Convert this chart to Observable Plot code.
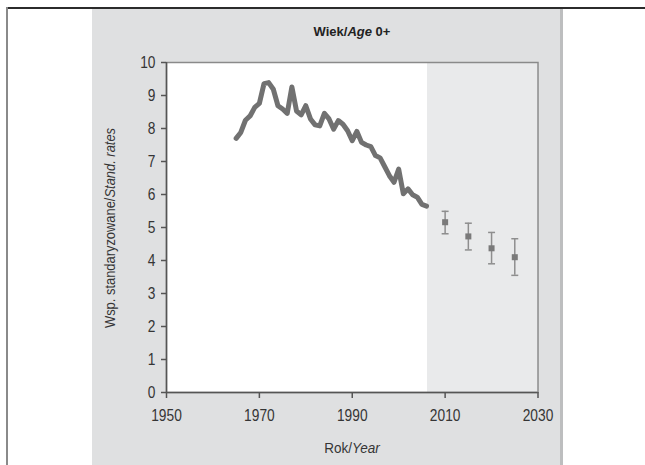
<!DOCTYPE html>
<html>
<head>
<meta charset="utf-8">
<script src="https://cdn.jsdelivr.net/npm/d3@7"></script>
<script src="https://cdn.jsdelivr.net/npm/@observablehq/plot@0.6"></script>
<style>
  html, body { margin: 0; padding: 0; }
  body {
    width: 645px; height: 465px; position: relative; overflow: hidden; background: #fff;
    font-family: "Liberation Sans", Arial, sans-serif;
  }
  #topline { position: absolute; left: 6px; top: 7px; width: 639px; height: 1.5px; background: #2b2b2b; }
  #leftline { position: absolute; left: 6px; top: 7px; width: 1.5px; height: 458px; background: #8a8a8a; }
  #panel { position: absolute; left: 92px; top: 9px; width: 468px; height: 456px; background: #dfe0e1; border-right: 3px solid #bdbebf; }
  #chart { position: absolute; left: 0; top: 0; }
  .lbl { position: absolute; color: #353535; white-space: nowrap; text-align: center; }
  #title { left: 252px; width: 200px; top: 24px; font-size: 13px; font-weight: bold; color: #222; }
  #xlabel { left: 252px; width: 200px; top: 439px; font-size: 15px; transform: scaleX(0.9); }
  #ylabel { left: -40px; top: 218px; width: 300px; height: 20px; line-height: 20px; font-size: 15px; transform: rotate(-90deg) scaleX(0.86); transform-origin: 150px 10px; }
</style>
</head>
<body>
<div id="panel"></div>
<div id="topline"></div>
<div id="leftline"></div>
<div id="chart"></div>
<div class="lbl" id="title">Wiek/<i>Age</i> 0+</div>
<div class="lbl" id="ylabel">Wsp. standaryzowane/<i>Stand. rates</i></div>
<div class="lbl" id="xlabel">Rok/<i>Year</i></div>
<script>
// Observed standardized rates, 1965–2006
const years = [1965,1966,1967,1968,1969,1970,1971,1972,1973,1974,1975,1976,1977,1978,1979,1980,1981,1982,1983,1984,1985,1986,1987,1988,1989,1990,1991,1992,1993,1994,1995,1996,1997,1998,1999,2000,2001,2002,2003,2004,2005,2006];
const rates = [7.70,7.88,8.25,8.38,8.64,8.76,9.36,9.39,9.19,8.69,8.59,8.46,9.26,8.53,8.41,8.69,8.29,8.11,8.08,8.46,8.29,7.98,8.24,8.13,7.93,7.63,7.91,7.58,7.50,7.45,7.18,7.11,6.84,6.57,6.37,6.77,6.02,6.17,5.99,5.92,5.70,5.65];

// Projections with uncertainty intervals
const projYears = [2010, 2015, 2020, 2025];
const projRates = [5.16, 4.73, 4.37, 4.10];
const projLow   = [4.81, 4.32, 3.90, 3.55];
const projHigh  = [5.49, 5.13, 4.85, 4.66];

// Projection period (shaded)
const projStart = 2006.2;
const projEnd = 2030;

// Axis ticks
const xTicks = [1950, 1970, 1990, 2010, 2030];
const yTicks = [0,1,2,3,4,5,6,7,8,9,10];

const hist = years.map((y, i) => ({year: y, rate: rates[i]}));
const proj = projYears.map((y, i) => ({year: y, rate: projRates[i], lo: projLow[i], hi: projHigh[i]}));
const capHalf = 0.75;

const chart = Plot.plot({
  width: 645,
  height: 465,
  marginLeft: 166,
  marginRight: 107.5,
  marginTop: 62,
  marginBottom: 73,
  style: {background: "transparent", fontFamily: "'Liberation Sans', Arial, sans-serif"},
  x: {domain: [1950, 2030]},
  y: {domain: [0, 10]},
  marks: [
    Plot.frame({fill: "white", stroke: null}),
    Plot.rect([{x1: projStart, x2: projEnd}], {x1: "x1", x2: "x2", y1: 0, y2: 10, fill: "#e9eaeb"}),
    Plot.frame({stroke: "#8a8a8a", strokeWidth: 1.5}),
    Plot.line(hist, {x: "year", y: "rate", stroke: "#717171", strokeWidth: 5, strokeLinejoin: "round", strokeLinecap: "round"}),
    Plot.ruleX(proj, {x: "year", y1: "lo", y2: "hi", stroke: "#8e8e8e", strokeWidth: 1.5}),
    Plot.link(proj, {x1: d => d.year - capHalf, x2: d => d.year + capHalf, y1: "hi", y2: "hi", stroke: "#8e8e8e", strokeWidth: 1.5}),
    Plot.link(proj, {x1: d => d.year - capHalf, x2: d => d.year + capHalf, y1: "lo", y2: "lo", stroke: "#8e8e8e", strokeWidth: 1.5}),
    Plot.dot(proj, {x: "year", y: "rate", symbol: "square", r: 3.4, fill: "#7a7a7a", stroke: null}),
    Plot.axisX({ticks: xTicks, tickFormat: d => String(d), tickSize: 6, tickPadding: 11, fontSize: 16, color: "#353535", stroke: "#555", strokeWidth: 1.5, label: null}),
    Plot.axisY({ticks: yTicks, tickFormat: d => String(d), tickSize: 5, tickPadding: 6, fontSize: 16, color: "#353535", stroke: "#555", strokeWidth: 1.5, label: null}),
    Plot.ruleX([1950], {stroke: "#555", strokeWidth: 1.5}),
    Plot.ruleY([0], {stroke: "#555", strokeWidth: 1.5})
  ]
});

// Condensed look for tick labels (narrow typeface not available)
const sx = 0.86;
d3.select(chart).selectAll("g[aria-label$='tick label'] text").each(function() {
  const t = this.getAttribute("transform") || "";
  if (this.hasAttribute("x")) {
    const X = +this.getAttribute("x");
    this.setAttribute("transform", `${t} translate(${X},0) scale(${sx},1) translate(${-X},0)`);
  } else {
    this.setAttribute("transform", `${t} scale(${sx},1)`);
  }
});
document.getElementById("chart").appendChild(chart);
</script>
</body>
</html>
